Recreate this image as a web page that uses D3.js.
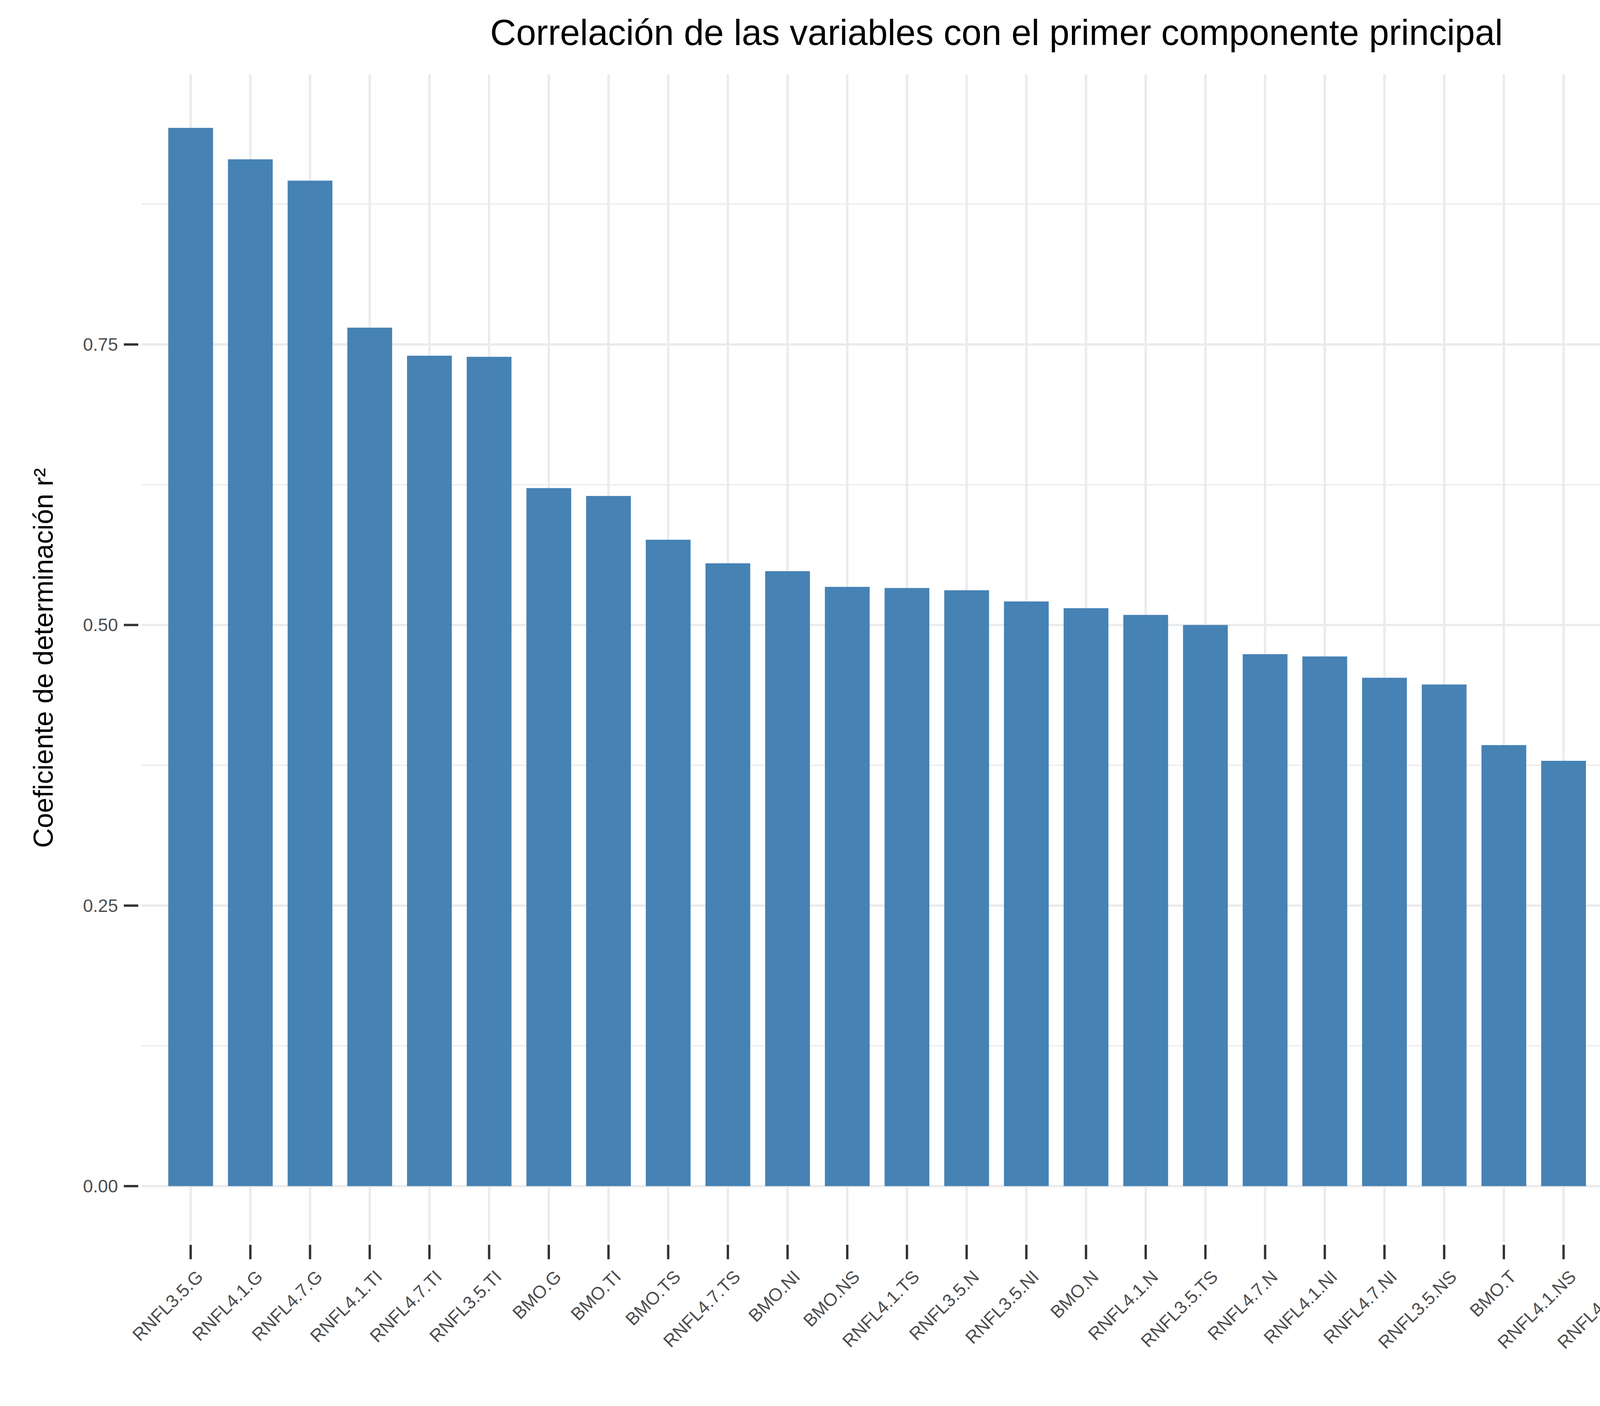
<!DOCTYPE html>
<html><head><meta charset="utf-8">
<script src="https://cdn.jsdelivr.net/npm/d3@7"></script>
<style>body{margin:0;background:#fff}</style></head>
<body><svg id="c" width="4800" height="3600"></svg>
<script>
const categories=["RNFL3.5.G","RNFL4.1.G","RNFL4.7.G","RNFL4.1.TI","RNFL4.7.TI","RNFL3.5.TI","BMO.G","BMO.TI","BMO.TS","RNFL4.7.TS","BMO.NI","BMO.NS","RNFL4.1.TS","RNFL3.5.N","RNFL3.5.NI","BMO.N","RNFL4.1.N","RNFL3.5.TS","RNFL4.7.N","RNFL4.1.NI","RNFL4.7.NI","RNFL3.5.NS","BMO.T","RNFL4.1.NS","RNFL4.7.NS","RNFL3.5.T","RNFL4.1.T","RNFL4.7.T"];
const values=[0.943,0.915,0.896,0.765,0.740,0.739,0.622,0.615,0.576,0.555,0.548,0.534,0.533,0.531,0.521,0.515,0.509,0.500,0.474,0.472,0.453,0.447,0.393,0.379,0.348,0.340,0.280,0.205];
const yTicks=[0,0.25,0.5,0.75];
const yMinor=[0.125,0.375,0.625,0.875];
const title="Correlación de las variables con el primer componente principal";
const yTitle="Coeficiente de determinación r²";

const svg=d3.select("#c");
const font="Liberation Sans, Arial, sans-serif";
const y=d3.scaleLinear().domain([0,0.75]).range([3037,882]);
const pTop=190, pBottom=y(-0.05*0.99);
const pLeft=362, pRight=4740;
const x=d3.scaleBand().domain(categories).range([pLeft,pRight]).paddingInner(0.25).paddingOuter(0.45);
const g=svg.append("g");
g.selectAll(".mn").data(yMinor).join("line").attr("x1",pLeft).attr("x2",pRight)
 .attr("y1",d=>y(d)).attr("y2",d=>y(d)).attr("stroke","#ebebeb").attr("stroke-width",3);
g.selectAll(".mj").data(yTicks).join("line").attr("x1",pLeft).attr("x2",pRight)
 .attr("y1",d=>y(d)).attr("y2",d=>y(d)).attr("stroke","#ebebeb").attr("stroke-width",6);
g.selectAll(".vx").data(categories).join("line").attr("x1",d=>x(d)+x.bandwidth()/2).attr("x2",d=>x(d)+x.bandwidth()/2)
 .attr("y1",pTop).attr("y2",pBottom).attr("stroke","#ebebeb").attr("stroke-width",6);
g.selectAll("rect").data(values).join("rect")
 .attr("x",(d,i)=>x(categories[i])).attr("width",x.bandwidth())
 .attr("y",d=>y(d)).attr("height",d=>y(0)-y(d)).attr("fill","#4682b4");
g.selectAll(".yt").data(yTicks).join("line").attr("x1",pLeft-45).attr("x2",pLeft-8)
 .attr("y1",d=>y(d)).attr("y2",d=>y(d)).attr("stroke","#333").attr("stroke-width",6);
g.selectAll(".yl").data(yTicks).join("text").attr("x",pLeft-60).attr("y",d=>y(d)).attr("dy","0.35em")
 .attr("text-anchor","end").attr("font-family",font).attr("font-size",46).attr("fill","#4d4d4d").text(d=>d3.format(".2f")(d));
g.selectAll(".xt").data(categories).join("line").attr("x1",d=>x(d)+x.bandwidth()/2).attr("x2",d=>x(d)+x.bandwidth()/2)
 .attr("y1",pBottom+8).attr("y2",pBottom+45).attr("stroke","#333").attr("stroke-width",6);
g.selectAll(".xl").data(categories).join("text")
 .attr("transform",d=>`translate(${x(d)+x.bandwidth()/2+12},${pBottom+70}) rotate(-45)`)
 .attr("text-anchor","end").attr("dy","0.7em").attr("font-family",font).attr("font-size",46).attr("fill","#4d4d4d").text(d=>d);
svg.append("text").attr("x",(pLeft+pRight)/2).attr("y",115).attr("text-anchor","middle")
 .attr("font-family",font).attr("font-size",92).attr("fill","#000").text(title);
svg.append("text").attr("transform",`translate(135,${(pTop+pBottom)/2}) rotate(-90)`).attr("text-anchor","middle")
 .attr("font-family",font).attr("font-size",70).attr("fill","#000").text(yTitle);
</script></body></html>
